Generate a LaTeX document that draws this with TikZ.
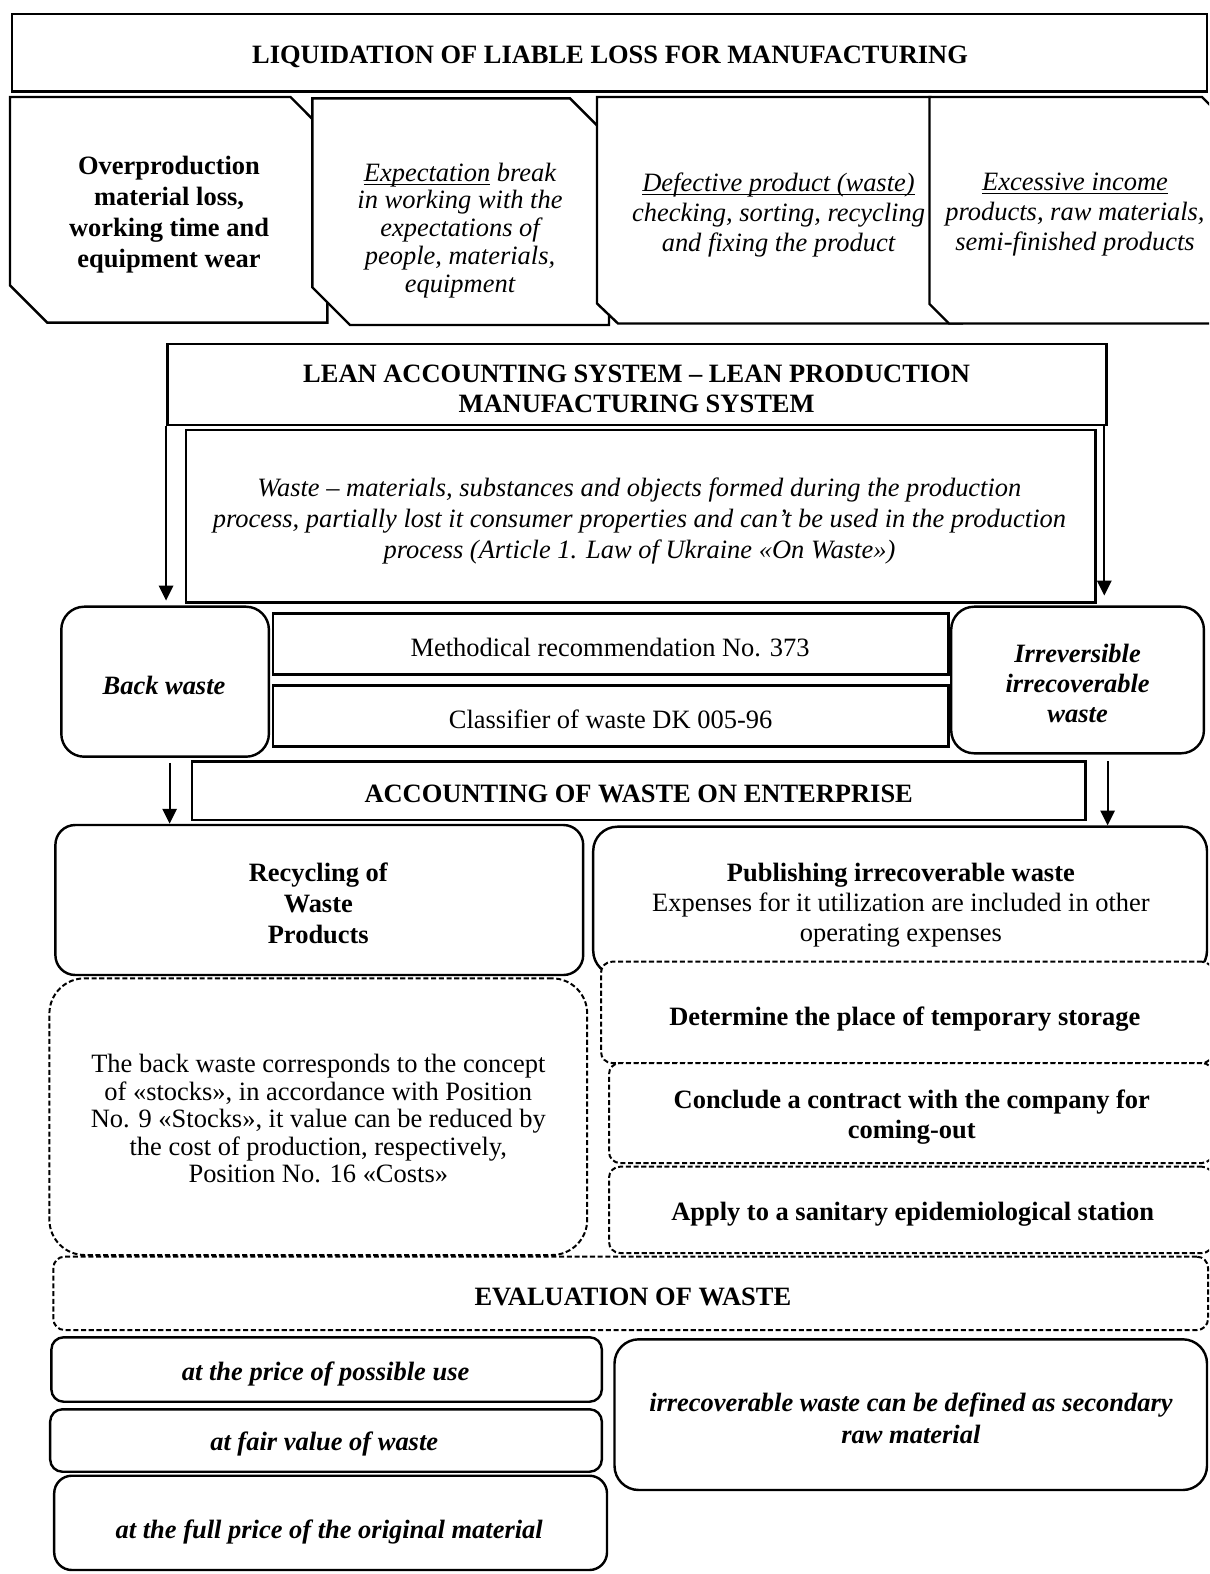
\documentclass[tikz,border=0pt]{standalone}
\usepackage{fontspec}
\setmainfont{Liberation Serif}
\usetikzlibrary{fit,arrows.meta}
\newcommand\fs[1]{\fontsize{12}{#1}\selectfont}
\newcommand\mkbox[4]{\node[#1, fit={#2 #3}] (#4) {};}
\newsavebox\ulbox
\newcommand\uln[1]{\sbox{\ulbox}{#1}\rlap{\rule[-1.7pt]{\wd\ulbox}{0.55pt}}\usebox{\ulbox}}
\tikzset{
  sbox/.style={draw, line width=1.1pt, fill=white, inner sep=0pt},
  rsbox/.style={sbox, rounded corners=#1},
  dsbox/.style={draw, line width=0.9pt, fill=white, inner sep=0pt, dash pattern=on 2.3pt off 1.2pt, rounded corners=#1},
  cbox/.style={draw, line width=1.1pt, fill=white, line join=miter},
  txt/.style={align=center, inner sep=0pt, yshift=-1pt},
  arr/.style={line width=0.9pt, -{Triangle[length=6.8pt,width=6.5pt]}},
}
\begin{document}
\begin{tikzpicture}[x=0.4535pt, y=-0.4535pt]
\useasboundingbox (0,0) rectangle (1209,1574);
\clip (0,0) rectangle (1209,1574);

% top title box
\mkbox{sbox}{(11.9,14)}{(1207,91.7)}{top}
\node[txt, font=\fs{14}\bfseries] (ttop) at (610,55) {LIQUIDATION OF LIABLE LOSS FOR MANUFACTURING};

% four chamfered boxes
\draw[cbox] (10,97) -- (290.5,97) -- (327.4,134) -- (327.4,322.7) -- (47.4,322.7) -- (10,285.3) -- cycle;
\draw[cbox] (312.4,98.3) -- (570,98.3) -- (609,137.3) -- (609,325) -- (350,325) -- (312.4,287.4) -- cycle;
\draw[cbox] (597,97) -- (931,97) -- (962,128) -- (962,323.5) -- (618,323.5) -- (597,303.5) -- cycle;
\draw[cbox] (929.5,97) -- (1202,97) -- (1239,134) -- (1239,323.5) -- (949,323.5) -- (929.5,304) -- cycle;

\node[txt, font=\fs{14.06}\bfseries] (t1) at (169,212) {Overproduction\\material loss,\\working time and\\equipment wear};
\node[txt, font=\fs{12.6}\itshape] (t2) at (460,228) {\uln{Expectation} break\\in working with the\\expectations of\\people, materials,\\equipment};
\node[txt, font=\fs{13.6}\itshape] (t3) at (778.5,212.5) {\uln{Defective product (waste)}\\checking, sorting, recycling\\and fixing the product};
\node[txt, font=\fs{13.6}\itshape] (t4) at (1075,212.5) {\uln{Excessive income}\\products, raw materials,\\semi-finished products};

% lean system
\mkbox{sbox}{(167.3,344)}{(1106.4,425)}{lean}
\node[txt, font=\fs{13.6}\bfseries] (tlean) at (636.6,386.7) {LEAN ACCOUNTING SYSTEM -- LEAN PRODUCTION\\MANUFACTURING SYSTEM};
\mkbox{sbox}{(185.8,430)}{(1095.3,602.7)}{wdef}
\node[txt, font=\fs{14}\itshape] (twdef) at (639.4,518.5) {Waste -- materials, substances and objects formed during the production\\process, partially lost it consumer properties and can’t be used in the production\\process (Article 1. Law of Ukraine «On Waste»)};

% back / irreversible
\mkbox{rsbox=10.4pt}{(61.3,606.7)}{(268.9,756.7)}{backw}
\node[txt, font=\fs{14}\bfseries\itshape] (tbackw) at (164,683.3) {Back waste};
\mkbox{sbox}{(272.8,613.3)}{(948.5,674.3)}{meth}
\node[txt, font=\fs{14}] (tmeth) at (610,645) {Methodical recommendation No. 373};
\mkbox{sbox}{(272.8,685.7)}{(948.5,746.7)}{clas}
\node[txt, font=\fs{14}] (tclas) at (610.6,716.7) {Classifier of waste DK 005-96};
\mkbox{rsbox=10.4pt}{(951.2,606.7)}{(1203.9,753.3)}{irr}
\node[txt, font=\fs{13.6}\bfseries\itshape] (tirr) at (1077.6,681.7) {Irreversible\\irrecoverable\\waste};

% accounting
\mkbox{sbox}{(191.8,761.7)}{(1085.5,820)}{acc}
\node[txt, font=\fs{14}\bfseries] (tacc) at (638.7,792) {ACCOUNTING OF WASTE ON ENTERPRISE};

% recycling / publishing
\mkbox{rsbox=9pt}{(55.4,825)}{(583.2,975)}{recyc}
\node[txt, font=\fs{14}\bfseries] (trecyc) at (318.3,900.8) {Recycling of\\Waste\\Products};
\mkbox{rsbox=11pt}{(593.2,826.7)}{(1207,975)}{pub}
\node[txt, font=\fs{13.6}] (tpub) at (900.9,903.3) {\textbf{Publishing irrecoverable waste}\\Expenses for it utilization are included in other\\operating expenses};

\mkbox{dsbox=16pt}{(49.4,978.3)}{(587.2,1255)}{bwtext}
\node[txt, font=\fs{12.47}] (tbwtext) at (318.3,1116.7) {The back waste corresponds to the concept\\of «stocks», in accordance with Position\\No. 9 «Stocks», it value can be reduced by\\the cost of production, respectively,\\Position No. 16 «Costs»};

\mkbox{dsbox=5pt}{(601,961.7)}{(1213,1063)}{det}
\node[txt, font=\fs{14}\bfseries] (tdet) at (904.8,1016.7) {Determine the place of temporary storage};
\mkbox{dsbox=5pt}{(609,1063)}{(1213,1163)}{conc}
\node[txt, font=\fs{13.6}\bfseries] (tconc) at (911.8,1115) {Conclude a contract with the company for\\coming-out};
\mkbox{dsbox=5pt}{(609,1166.7)}{(1213,1253)}{appl}
\node[txt, font=\fs{14}\bfseries] (tappl) at (912.7,1211.7) {Apply to a sanitary epidemiological station};

% evaluation
\mkbox{dsbox=5pt}{(53.4,1256.7)}{(1208,1330)}{eval}
\node[txt, font=\fs{14}\bfseries] (teval) at (632.9,1295) {EVALUATION OF WASTE};

\mkbox{rsbox=5.5pt}{(51.4,1337.3)}{(601.8,1401.7)}{pa}
\node[txt, font=\fs{14}\bfseries\itshape] (tpa) at (325.6,1371.7) {at the price of possible use};
\mkbox{rsbox=5.5pt}{(50.2,1409.3)}{(601.8,1471.7)}{pb}
\node[txt, font=\fs{14}\bfseries\itshape] (tpb) at (324.2,1441.7) {at fair value of waste};
\mkbox{rsbox=8pt}{(54.2,1475.7)}{(607,1570)}{pc}
\node[txt, font=\fs{14}\bfseries\itshape] (tpc) at (329.2,1530) {at the full price of the original material};
\mkbox{rsbox=11pt}{(614.5,1339.3)}{(1207,1490)}{sec}
\node[txt, font=\fs{14.4}\bfseries\itshape] (tsec) at (910.9,1415.8) {irrecoverable waste can be defined as secondary\\raw material};

% arrows
\draw[arr, shorten >=2.2pt] (lean.south west) -- (lean.south west |- backw.north);
\draw[arr, shorten >=4.5pt] ([xshift=-1.5pt]lean.south east) -- ([xshift=-1.5pt]lean.south east |- irr.north);
\draw[arr] ([xshift=1.6pt,yshift=-2.3pt]backw.south -| lean.south west) -- ([xshift=1.6pt]lean.south west |- recyc.north);
\draw[arr] ([yshift=-3pt]irr.south -| lean.south east) -- (lean.south east |- pub.north);
\end{tikzpicture}
\end{document}
